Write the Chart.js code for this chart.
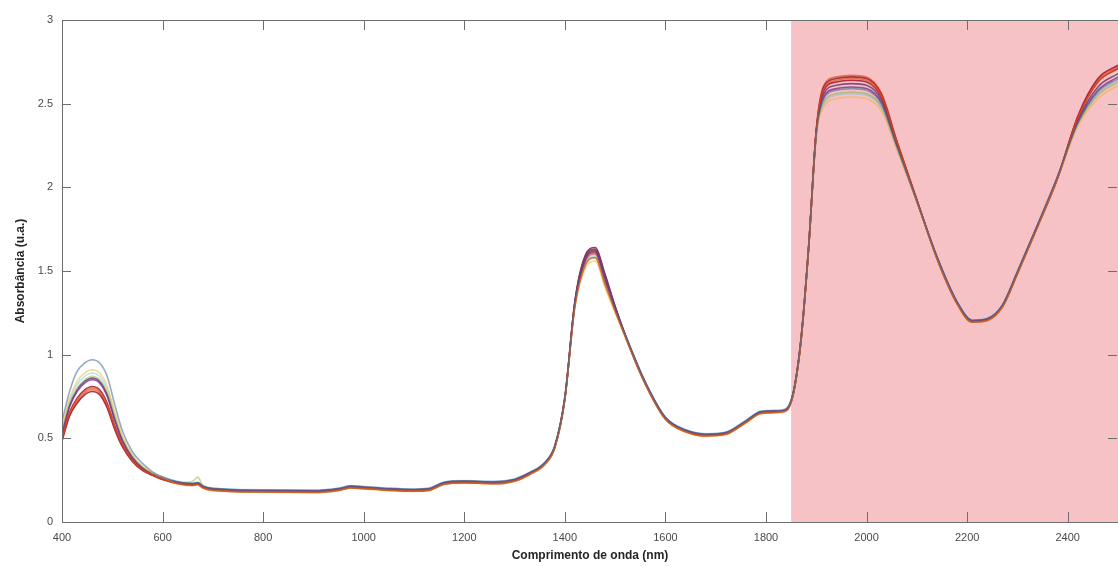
<!DOCTYPE html>
<html>
<head>
<meta charset="utf-8">
<title>Espectros de absorbância</title>
<script src="https://cdn.jsdelivr.net/npm/chart.js@4/dist/chart.umd.min.js"></script>
<style>
    html, body { margin: 0; padding: 0; background: #ffffff; }
    #wrap { width: 1118px; height: 566px; }
</style>
</head>
<body>
<div id="wrap"><canvas id="spectraChart" width="1118" height="566"></canvas></div>
<script>
// Wavelength grid (nm)
const wavelengths = [400, 415, 430, 445, 460, 475, 490, 505, 520, 540, 560, 580, 600, 630, 660, 670, 680, 700, 800, 900,
    950, 975, 1000, 1050, 1100, 1130, 1160, 1200, 1260, 1300, 1330, 1360, 1380, 1400, 1420, 1440, 1460, 1480, 1500, 1530,
    1560, 1600, 1640, 1680, 1720, 1760, 1790, 1820, 1840, 1855, 1870, 1885, 1900, 1915, 1940, 1970, 2000, 2030, 2060, 2100,
    2140, 2180, 2210, 2240, 2270, 2300, 2340, 2380, 2420, 2460, 2500];

// Spectra (absorbance, u.a.)
const spectrum01 = [0.60, 0.78, 0.90, 0.95, 0.97, 0.95, 0.87, 0.70, 0.545, 0.42, 0.35, 0.30, 0.27,
    0.241, 0.231, 0.236, 0.216, 0.201, 0.191, 0.189, 0.201, 0.216, 0.211, 0.201, 0.196, 0.201, 0.238, 0.246, 0.241, 0.256, 0.296, 0.356, 0.456, 0.746,
    1.315, 1.58, 1.63, 1.47, 1.285,
    1.046, 0.836, 0.626, 0.551, 0.526, 0.536, 0.606, 0.661, 0.666, 0.676, 0.786, 1.106, 1.656,
    2.321, 2.53, 2.58, 2.59, 2.58, 2.496, 2.248, 1.917,
    1.586, 1.316, 1.206, 1.216, 1.296, 1.496, 1.776, 2.066,
    2.385, 2.57, 2.65];
const spectrum02 = [0.496, 0.648, 0.73, 0.78, 0.80, 0.78, 0.70, 0.568, 0.46, 0.368, 0.312, 0.281, 0.256,
    0.231, 0.221, 0.226, 0.206, 0.191, 0.181, 0.179, 0.191, 0.206, 0.201, 0.191, 0.186, 0.191, 0.228, 0.236, 0.231, 0.246, 0.286, 0.346, 0.446, 0.736,
    1.29, 1.53, 1.58, 1.42, 1.26,
    1.036, 0.826, 0.616, 0.541, 0.516, 0.526, 0.596, 0.651, 0.656, 0.666, 0.776, 1.096, 1.646,
    2.339, 2.59, 2.64, 2.65, 2.64, 2.544, 2.272, 1.923,
    1.576, 1.306, 1.196, 1.206, 1.286, 1.486, 1.766, 2.056,
    2.415, 2.63, 2.71];
const spectrum03 = [0.562, 0.736, 0.84, 0.89, 0.91, 0.89, 0.81, 0.656, 0.515, 0.401, 0.334, 0.292, 0.267,
    0.227, 0.217, 0.222, 0.202, 0.187, 0.177, 0.175, 0.187, 0.202, 0.197, 0.187, 0.182, 0.187, 0.224, 0.232, 0.227, 0.242, 0.282, 0.342, 0.442, 0.732,
    1.28, 1.51, 1.56, 1.40, 1.25,
    1.032, 0.822, 0.612, 0.537, 0.512, 0.522, 0.592, 0.647, 0.652, 0.662, 0.772, 1.092, 1.642,
    2.306, 2.48, 2.53, 2.54, 2.53, 2.456, 2.228, 1.912,
    1.572, 1.302, 1.192, 1.202, 1.282, 1.482, 1.762, 2.052,
    2.365, 2.53, 2.61];
const spectrum04 = [0.526, 0.688, 0.78, 0.83, 0.85, 0.83, 0.75, 0.608, 0.485, 0.383, 0.322, 0.286, 0.261,
    0.238, 0.228, 0.233, 0.213, 0.198, 0.188, 0.186, 0.198, 0.213, 0.208, 0.198, 0.193, 0.198, 0.235, 0.243, 0.238, 0.253, 0.293, 0.353, 0.453, 0.743,
    1.305, 1.56, 1.61, 1.45, 1.275,
    1.043, 0.833, 0.623, 0.548, 0.523, 0.533, 0.603, 0.658, 0.663, 0.673, 0.783, 1.103, 1.653,
    2.324, 2.54, 2.59, 2.60, 2.59, 2.504, 2.252, 1.918,
    1.583, 1.313, 1.203, 1.213, 1.293, 1.493, 1.773, 2.063,
    2.39, 2.58, 2.66];
const spectrum05 = [0.538, 0.704, 0.80, 0.85, 0.87, 0.85, 0.77, 0.624, 0.495, 0.389, 0.326, 0.288, 0.263,
    0.233, 0.243, 0.268, 0.218, 0.193, 0.183, 0.181, 0.193, 0.208, 0.203, 0.193, 0.188, 0.193, 0.230, 0.238, 0.233, 0.248, 0.288, 0.348, 0.448, 0.738,
    1.29, 1.53, 1.58, 1.42, 1.26,
    1.038, 0.828, 0.618, 0.543, 0.518, 0.528, 0.598, 0.653, 0.658, 0.668, 0.778, 1.098, 1.648,
    2.315, 2.51, 2.56, 2.57, 2.56, 2.48, 2.24, 1.915,
    1.578, 1.308, 1.198, 1.208, 1.288, 1.488, 1.768, 2.058,
    2.375, 2.55, 2.63];
const spectrum06 = [0.55, 0.72, 0.82, 0.87, 0.89, 0.87, 0.79, 0.64, 0.505, 0.395, 0.33, 0.29, 0.265,
    0.243, 0.233, 0.238, 0.218, 0.203, 0.193, 0.191, 0.203, 0.218, 0.213, 0.203, 0.198, 0.203, 0.240, 0.248, 0.243, 0.258, 0.298, 0.358, 0.458, 0.748,
    1.295, 1.54, 1.59, 1.43, 1.265,
    1.048, 0.838, 0.628, 0.553, 0.528, 0.538, 0.608, 0.663, 0.668, 0.678, 0.788, 1.108, 1.658,
    2.312, 2.50, 2.55, 2.56, 2.55, 2.472, 2.236, 1.914,
    1.588, 1.318, 1.208, 1.218, 1.298, 1.498, 1.778, 2.068,
    2.38, 2.56, 2.64];
const spectrum07 = [0.484, 0.632, 0.71, 0.76, 0.78, 0.76, 0.68, 0.552, 0.45, 0.362, 0.308, 0.279, 0.254,
    0.229, 0.219, 0.224, 0.204, 0.189, 0.179, 0.177, 0.189, 0.204, 0.199, 0.189, 0.184, 0.189, 0.226, 0.234, 0.229, 0.244, 0.284, 0.344, 0.444, 0.734,
    1.31, 1.57, 1.62, 1.46, 1.28,
    1.034, 0.824, 0.614, 0.539, 0.514, 0.524, 0.594, 0.649, 0.654, 0.664, 0.774, 1.094, 1.644,
    2.342, 2.60, 2.65, 2.66, 2.65, 2.552, 2.276, 1.924,
    1.574, 1.304, 1.194, 1.204, 1.284, 1.484, 1.764, 2.054,
    2.425, 2.65, 2.73];
const spectrum08 = [0.49, 0.64, 0.72, 0.77, 0.79, 0.77, 0.69, 0.56, 0.455, 0.365, 0.31, 0.28, 0.255,
    0.239, 0.229, 0.234, 0.214, 0.199, 0.189, 0.187, 0.199, 0.214, 0.209, 0.199, 0.194, 0.199, 0.236, 0.244, 0.239, 0.254, 0.294, 0.354, 0.454, 0.744,
    1.30, 1.55, 1.60, 1.44, 1.27,
    1.044, 0.834, 0.624, 0.549, 0.524, 0.534, 0.604, 0.659, 0.664, 0.674, 0.784, 1.104, 1.654,
    2.345, 2.61, 2.66, 2.67, 2.66, 2.56, 2.28, 1.925,
    1.584, 1.314, 1.204, 1.214, 1.294, 1.494, 1.774, 2.064,
    2.42, 2.64, 2.72];
const spectrum09 = [0.502, 0.656, 0.74, 0.79, 0.81, 0.79, 0.71, 0.576, 0.465, 0.371, 0.314, 0.282, 0.257,
    0.235, 0.225, 0.23, 0.21, 0.195, 0.185, 0.183, 0.195, 0.21, 0.205, 0.195, 0.19, 0.195, 0.232, 0.24, 0.235, 0.25, 0.29, 0.35, 0.45, 0.74,
    1.32, 1.59, 1.64, 1.48, 1.29,
    1.04, 0.83, 0.62, 0.545, 0.52, 0.53, 0.60, 0.655, 0.66, 0.67, 0.78, 1.10, 1.65,
    2.336, 2.58, 2.63, 2.64, 2.63, 2.536, 2.268, 1.922,
    1.58, 1.31, 1.20, 1.21, 1.29, 1.49, 1.77, 2.06,
    2.415, 2.63, 2.71];
const spectrum10 = [0.532, 0.696, 0.79, 0.84, 0.86, 0.84, 0.76, 0.616, 0.49, 0.386, 0.324, 0.287, 0.262,
    0.232, 0.222, 0.227, 0.207, 0.192, 0.182, 0.180, 0.192, 0.207, 0.202, 0.192, 0.187, 0.192, 0.229, 0.237, 0.232, 0.247, 0.287, 0.347, 0.447, 0.737,
    1.315, 1.58, 1.63, 1.47, 1.285,
    1.037, 0.827, 0.617, 0.542, 0.517, 0.527, 0.597, 0.652, 0.657, 0.667, 0.777, 1.097, 1.647,
    2.33, 2.56, 2.61, 2.62, 2.61, 2.52, 2.26, 1.92,
    1.577, 1.307, 1.197, 1.207, 1.287, 1.487, 1.767, 2.057,
    2.40, 2.60, 2.68];

const allSpectra = [spectrum01, spectrum02, spectrum03, spectrum04, spectrum05,
    spectrum06, spectrum07, spectrum08, spectrum09, spectrum10];
// MATLAB default line colours; the light ones are more transparent so the overlap turns brownish
const seriesColors = ['rgba(60,100,150,0.55)', 'rgba(217,83,25,0.7)', 'rgba(237,177,32,0.5)', 'rgba(126,47,142,0.8)',
    'rgba(119,172,48,0.45)', 'rgba(77,190,238,0.4)', 'rgba(162,20,47,0.85)', 'rgba(217,83,25,0.7)',
    'rgba(162,20,47,0.85)', 'rgba(110,60,110,0.85)'];

// Highlighted region (nm)
const shadeStartNm = 1850;
const xMin = 400, xMax = 2500;
const yMin = 0, yMax = 3;

const axisColor = '#6e6e6e';
const labelColor = '#4a4a4a';
const fontFamily = 'Liberation Sans, Arial, sans-serif';

// Pink band behind the spectra
const shadePlugin = {
    id: 'shade',
    beforeDatasetsDraw(chart) {
        const { ctx, chartArea, scales } = chart;
        const x0 = scales.x.getPixelForValue(shadeStartNm);
        ctx.save();
        ctx.fillStyle = '#f7c2c6';
        ctx.fillRect(x0, chartArea.top, chartArea.right - x0, chartArea.bottom - chartArea.top);
        ctx.restore();
    }
};

// MATLAB-like box with inward ticks
const boxPlugin = {
    id: 'box',
    afterDraw(chart) {
        const { ctx, chartArea, scales } = chart;
        const { left, right, top, bottom } = chartArea;
        ctx.save();
        ctx.strokeStyle = axisColor;
        ctx.lineWidth = 1;
        ctx.beginPath();
        ctx.moveTo(left, top + 0.5);
        ctx.lineTo(right, top + 0.5);
        ctx.moveTo(left + 0.5, top);
        ctx.lineTo(left + 0.5, bottom);
        ctx.moveTo(left, bottom + 0.5);
        ctx.lineTo(right, bottom + 0.5);
        scales.x.ticks.forEach(t => {
            const px = Math.round(scales.x.getPixelForValue(t.value)) + 0.5;
            ctx.moveTo(px, bottom);
            ctx.lineTo(px, bottom - 10);
            ctx.moveTo(px, top);
            ctx.lineTo(px, top + 10);
        });
        scales.y.ticks.forEach(t => {
            const py = Math.round(scales.y.getPixelForValue(t.value)) + 0.5;
            ctx.moveTo(left, py);
            ctx.lineTo(left + 9, py);
            ctx.moveTo(right - 1, py);
            ctx.lineTo(right - 10, py);
        });
        ctx.stroke();
        ctx.restore();
    }
};

const datasets = allSpectra.map((spec, i) => ({
    label: 'Amostra ' + (i + 1),
    data: wavelengths.map((w, j) => ({ x: w, y: spec[j] })),
    borderColor: seriesColors[i],
    borderWidth: 1.6,
    pointRadius: 0,
    fill: false,
    cubicInterpolationMode: 'monotone'
}));

const ctx = document.getElementById('spectraChart').getContext('2d');
new Chart(ctx, {
    type: 'line',
    data: { datasets },
    options: {
        responsive: false,
        animation: false,
        layout: { padding: { top: 20, right: 0, left: 0, bottom: 0 } },
        plugins: {
            legend: { display: false },
            tooltip: { enabled: false }
        },
        scales: {
            x: {
                type: 'linear',
                min: xMin,
                max: xMax,
                afterBuildTicks: (scale) => {
                    scale.ticks = scale.ticks.filter(t => t.value % 200 === 0 && t.value <= 2400);
                },
                afterFit: (scale) => { scale.height = 44; },
                grid: { display: false, drawTicks: false },
                border: { display: false },
                ticks: {
                    stepSize: 200,
                    autoSkip: false,
                    maxRotation: 0,
                    padding: 9,
                    color: labelColor,
                    font: { family: fontFamily, size: 11 },
                    callback: (v) => String(v)
                },
                title: {
                    display: true,
                    text: 'Comprimento de onda (nm)',
                    color: '#262626',
                    padding: { top: 3, bottom: 3 },
                    font: { family: fontFamily, size: 12, weight: 'bold' }
                }
            },
            y: {
                min: yMin,
                max: yMax,
                afterFit: (scale) => { scale.width = 62; },
                grid: { display: false, drawTicks: false },
                border: { display: false },
                ticks: {
                    stepSize: 0.5,
                    padding: 9,
                    color: labelColor,
                    font: { family: fontFamily, size: 11 },
                    callback: (v) => String(v)
                },
                title: {
                    display: true,
                    text: 'Absorbância (u.a.)',
                    color: '#262626',
                    padding: { top: 13, bottom: 13 },
                    font: { family: fontFamily, size: 12, weight: 'bold' }
                }
            }
        }
    },
    plugins: [shadePlugin, boxPlugin]
});
</script>
</body>
</html>
